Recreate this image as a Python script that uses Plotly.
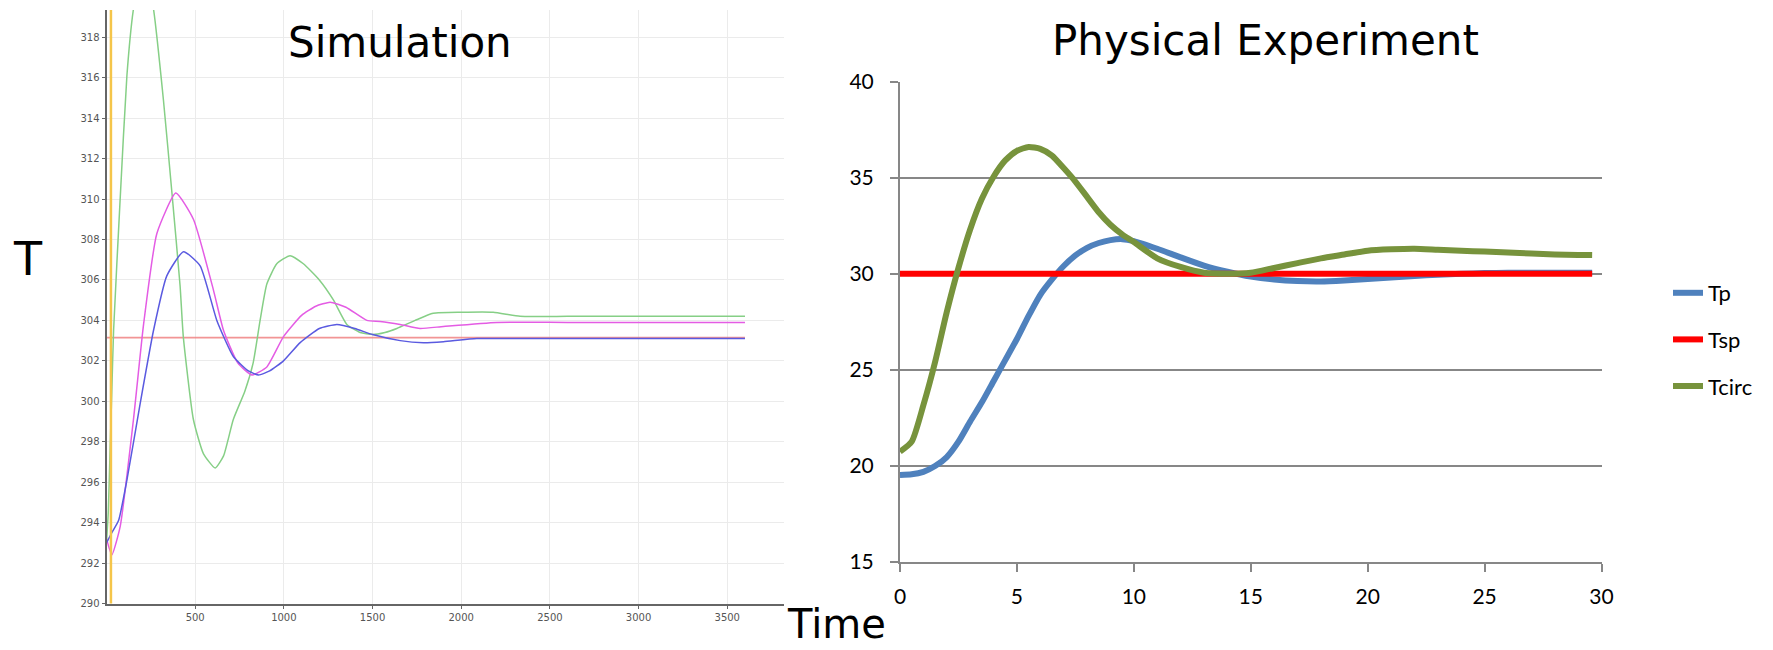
import plotly.graph_objects as go

W, H = 1773, 650

# ---------------- Simulation (left) data ----------------
sim_blue_t = [0, 30, 68, 115, 190, 265, 340, 434, 528, 622, 716, 800, 857, 920, 998, 1092,
              1200, 1299, 1400, 1500, 1656, 1787, 1900, 2088, 2500, 3000, 3600]
sim_blue = [293.0, 293.5, 294.1, 296.1, 299.9, 303.5, 306.2, 307.4, 306.7, 304.0, 302.2, 301.5,
            301.3, 301.5, 302.0, 302.9, 303.6, 303.8, 303.6, 303.3, 303.0, 302.9, 302.95, 303.1,
            303.1, 303.1, 303.1]

sim_mag_t = [0, 30, 77, 152, 209, 284, 391, 490, 603, 660, 740, 820, 904, 998, 1100, 1180, 1261,
             1350, 1468, 1543, 1656, 1768, 1900, 2200, 2600, 3600]
sim_mag = [293.2, 292.4, 293.8, 299.1, 303.8, 308.3, 310.3, 309.0, 305.5, 303.5, 301.9, 301.3,
           301.7, 303.2, 304.25, 304.7, 304.9, 304.65, 304.0, 303.95, 303.8, 303.6, 303.7, 303.9,
           303.9, 303.9]

sim_green_t = [0, 10, 20, 30, 40, 77, 115, 152, 208, 265, 321, 369, 415, 433, 490, 547, 613, 660,
               715, 780, 827, 866, 904, 960, 1035, 1110, 1200, 1280, 1355, 1430, 1500, 1570, 1637,
               1740, 1842, 2000, 2180, 2332, 2600, 3000, 3600]
sim_green = [293.0, 294.5, 297.5, 300.5, 303.5, 310.0, 316.1, 319.4, 321.9, 319.4, 314.9, 310.3,
             305.7, 303.2, 299.1, 297.4, 296.7, 297.3, 299.1, 300.5, 301.9, 304.0, 305.8, 306.8,
             307.2, 306.8, 306.0, 305.0, 303.8, 303.4, 303.3, 303.4, 303.6, 304.0, 304.35, 304.4,
             304.4, 304.2, 304.2, 304.2, 304.2]

sim_set_t = [0, 3600]
sim_set = [303.15, 303.15]
sim_cursor_t = 25

sim_xticks = [500, 1000, 1500, 2000, 2500, 3000, 3500]
sim_yticks = list(range(290, 320, 2))

# ---------------- Physical experiment (right) data ----------------
exp_t = [0, 0.5, 1.0, 1.5, 2.0, 2.5, 3.0, 3.5, 4.0, 4.5, 5.0, 5.5, 6.0, 6.5, 7.0, 7.5, 8.0, 8.5,
         9.0, 9.5, 10, 11, 12, 13, 14, 15, 16, 17, 18, 19, 20, 21, 22, 23, 24, 25, 26, 27, 28, 29, 29.6]
exp_tp = [19.52, 19.55, 19.68, 19.98, 20.45, 21.25, 22.3, 23.3, 24.4, 25.5, 26.6, 27.8, 28.9, 29.7,
          30.4, 30.95, 31.35, 31.6, 31.75, 31.8, 31.7, 31.3, 30.85, 30.42, 30.1, 29.85, 29.7, 29.62,
          29.6, 29.65, 29.72, 29.8, 29.88, 29.95, 30.0, 30.03, 30.05, 30.05, 30.05, 30.05, 30.05]
exp_tsp = [30.0] * len(exp_t)
exp_tcirc = [20.73, 21.25, 23.15, 25.4, 28.0, 30.3, 32.3, 33.9, 35.05, 35.9, 36.4, 36.6, 36.5,
             36.15, 35.5, 34.8, 34.0, 33.2, 32.55, 32.05, 31.65, 30.8, 30.35, 30.05, 30.0, 30.05,
             30.3, 30.55, 30.8, 31.0, 31.2, 31.27, 31.3, 31.25, 31.2, 31.15, 31.1, 31.05, 31.0,
             30.98, 30.97]

exp_xticks = [0, 5, 10, 15, 20, 25, 30]
exp_yticks = [15, 20, 25, 30, 35, 40]


def px_x(p):
    return p / W


def px_y(p):
    return 1 - p / H


fig = go.Figure()

# Simulation traces
fig.add_trace(go.Scatter(x=sim_set_t, y=sim_set, mode="lines", showlegend=False,
                         line=dict(color="rgba(240,130,130,0.85)", width=1.6),
                         xaxis="x", yaxis="y"))
fig.add_trace(go.Scatter(x=sim_green_t, y=sim_green, mode="lines", showlegend=False,
                         line=dict(color="#86cf86", width=1.5, shape="spline", smoothing=0.5),
                         xaxis="x", yaxis="y"))
fig.add_trace(go.Scatter(x=sim_mag_t, y=sim_mag, mode="lines", showlegend=False,
                         line=dict(color="#e45ce4", width=1.5, shape="spline", smoothing=0.5),
                         xaxis="x", yaxis="y"))
fig.add_trace(go.Scatter(x=sim_blue_t, y=sim_blue, mode="lines", showlegend=False,
                         line=dict(color="#5a5ae0", width=1.5, shape="spline", smoothing=0.5),
                         xaxis="x", yaxis="y"))

# Experiment traces
fig.add_trace(go.Scatter(x=exp_t, y=exp_tp, mode="lines", name="Tp", legendgroup="a",
                         line=dict(color="#4F81BD", width=6, shape="spline", smoothing=0.6),
                         xaxis="x2", yaxis="y2"))
fig.add_trace(go.Scatter(x=exp_t, y=exp_tsp, mode="lines", name="Tsp", legendgroup="b",
                         line=dict(color="#FF0000", width=6), xaxis="x2", yaxis="y2"))
fig.add_trace(go.Scatter(x=exp_t, y=exp_tcirc, mode="lines", name="Tcirc", legendgroup="c",
                         line=dict(color="#77933C", width=6, shape="spline", smoothing=0.6),
                         xaxis="x2", yaxis="y2"))

sim_font = dict(family="DejaVu Sans", size=10, color="#555555")
exp_font = dict(family="Lato", size=21, color="#000000")

fig.update_layout(
    width=W, height=H,
    margin=dict(l=0, r=0, t=0, b=0),
    paper_bgcolor="white", plot_bgcolor="white",
    xaxis=dict(domain=[px_x(106.5), px_x(784)], range=[0, 3820], tickvals=sim_xticks,
               showgrid=True, gridcolor="#ebebeb", gridwidth=1, zeroline=False,
               showline=True, linecolor="#666666", linewidth=2,
               ticks="outside", ticklen=3, tickcolor="#666666", tickfont=sim_font,
               automargin=False, anchor="y"),
    yaxis=dict(domain=[px_y(603.5), px_y(10)], range=[290, 319.35], tickvals=sim_yticks,
               showgrid=True, gridcolor="#ebebeb", gridwidth=1, zeroline=False,
               showline=True, linecolor="#666666", linewidth=2,
               ticks="outside", ticklen=3, tickcolor="#666666", tickfont=sim_font,
               automargin=False, anchor="x"),
    xaxis2=dict(domain=[px_x(900), px_x(1601.5)], range=[0, 30], tickvals=exp_xticks,
                showgrid=False, zeroline=False,
                showline=True, linecolor="#878787", linewidth=2,
                ticks="outside", ticklen=8, tickwidth=2, tickcolor="#878787",
                tickfont=exp_font, ticklabelstandoff=7, automargin=False, anchor="y2"),
    yaxis2=dict(domain=[px_y(561.7), px_y(81.7)], range=[15, 40], tickvals=exp_yticks,
                showgrid=True, gridcolor="#878787", gridwidth=2, zeroline=False,
                showline=True, linecolor="#878787", linewidth=2,
                ticks="outside", ticklen=8, tickwidth=2, tickcolor="#878787",
                tickfont=exp_font, ticklabelstandoff=12, automargin=False, anchor="x2"),
    showlegend=True,
    legend=dict(x=px_x(1668), y=px_y(272), xanchor="left", yanchor="top",
                font=dict(family="Lato", size=22, color="#000000"),
                tracegroupgap=15, bgcolor="rgba(0,0,0,0)", borderwidth=0),
    shapes=[dict(type="line", xref="x", yref="y domain", x0=sim_cursor_t, x1=sim_cursor_t,
                 y0=0, y1=1, line=dict(color="#f5c54a", width=2.5), layer="above")],
    annotations=[
        dict(text="Simulation", xref="paper", yref="paper", x=px_x(400), y=px_y(42),
             xanchor="center", yanchor="middle", showarrow=False,
             font=dict(family="DejaVu Sans", size=42, color="#000000")),
        dict(text="Physical Experiment", xref="paper", yref="paper", x=px_x(1265), y=px_y(41),
             xanchor="center", yanchor="middle", showarrow=False,
             font=dict(family="DejaVu Sans", size=42, color="#000000")),
        dict(text="T", xref="paper", yref="paper", x=px_x(28), y=px_y(259),
             xanchor="center", yanchor="middle", showarrow=False,
             font=dict(family="DejaVu Sans", size=46, color="#000000")),
        dict(text="Time", xref="paper", yref="paper", x=px_x(836), y=px_y(624),
             xanchor="center", yanchor="middle", showarrow=False,
             font=dict(family="DejaVu Sans", size=40, color="#000000")),
    ],
)

fig.write_html("out.html")
